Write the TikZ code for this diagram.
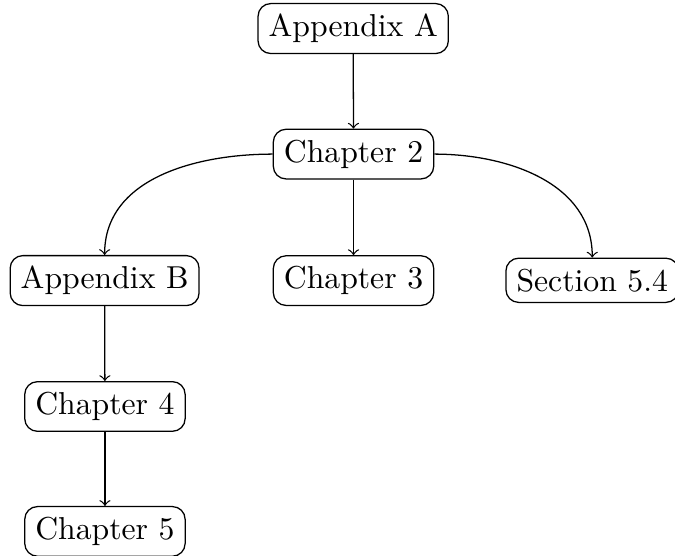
\documentclass[tikz,border=0pt]{standalone}
\begin{document}
\begin{tikzpicture}[x=1pt,y=1pt,
  box/.style={draw,rounded corners=4pt,inner sep=0.3333em},
  link/.style={->}]
\useasboundingbox (0,0) rectangle (212.9,-175.1);
\node[box] (a)   at (111.4,-9.0)   {Appendix A};
\node[box] (c2)  at (111.5,-48.6)  {Chapter 2};
\node[box] (ab)  at (33.0,-88.5)   {Appendix B};
\node[box] (c3)  at (111.5,-88.5)  {Chapter 3};
\node[box] (s54) at (186.8,-88.4)  {Section 5.4};
\node[box] (c4)  at (33.1,-128.2)  {Chapter 4};
\node[box] (c5)  at (33.1,-167.6)  {Chapter 5};
\draw[link] (a) -- (c2);
\draw[link] (c2) -- (c3);
\draw[link] (c2.west) to[out=180,in=90] (ab.north);
\draw[link] (c2.east) to[out=0,in=90] (s54.north);
\draw[link] (ab) -- (c4);
\draw[link] (c4) -- (c5);
\end{tikzpicture}
\end{document}
